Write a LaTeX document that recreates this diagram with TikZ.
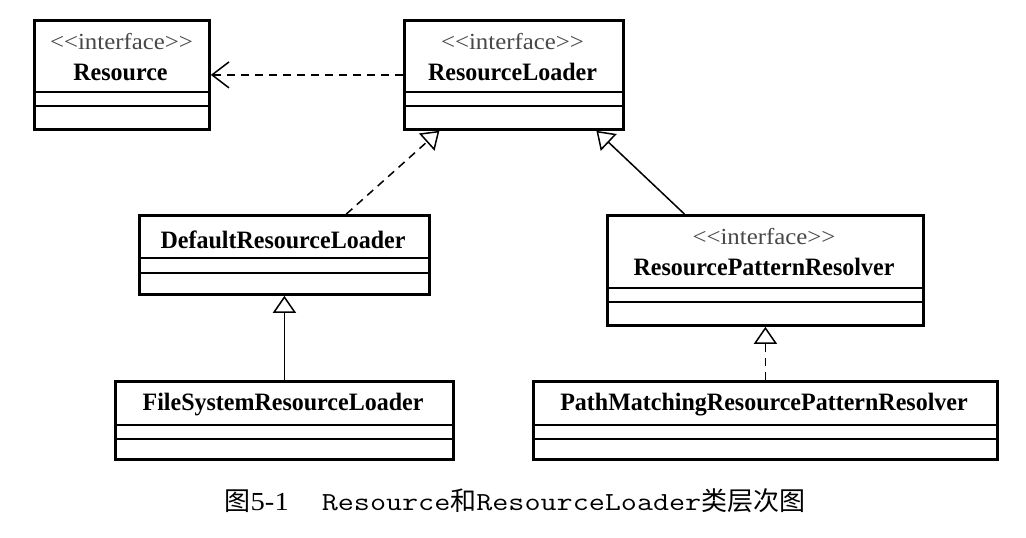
\documentclass[tikz,border=0pt]{standalone}
\usepackage{fontspec}
\usetikzlibrary{arrows.meta}
\setmainfont{Liberation Serif}
\newfontfamily\namefont[FakeStretch=0.96]{Liberation Serif}
\newfontfamily\stfont[FakeStretch=1.08]{Liberation Serif}
\newfontfamily\capserif[FakeStretch=1.1]{Liberation Serif}
\newfontfamily\capmono[FakeStretch=1.2]{Latin Modern Mono}
\newfontfamily\cjk{Noto Sans CJK SC}
\definecolor{stgray}{HTML}{484848}
\tikzset{
  cls/.style={draw, line width=2.8pt, inner sep=0pt, anchor=north west},
  divider/.style={line width=1.8pt},
  stereo/.style={inner sep=0pt, text=stgray, font=\stfont\fontsize{23}{25}\selectfont},
  cname/.style={inner sep=0pt, font=\namefont\bfseries\fontsize{25}{28}\selectfont},
  dep/.style={line width=1.5pt, dash pattern=on 8pt off 6pt, -{Straight Barb[length=17pt,width=26pt,line width=1.5pt]}},
  real/.style={line width=1.5pt, dash pattern=on 8pt off 6pt, -{Triangle[open,length=17pt,width=23pt,line width=1.5pt]}},
  inh/.style={line width=1.5pt, -{Triangle[open,length=17pt,width=23pt,line width=1.5pt]}}
}
\begin{document}
\begin{tikzpicture}[x=1pt,y=-1pt]
\useasboundingbox[fill=white] (0,0) rectangle (1026,538);
% Resource
\node[cls, minimum width=175pt, minimum height=109pt] (res) at (33,19) {};
\draw[divider] (33,92) -- (208,92);
\draw[divider] (33,106) -- (208,106);
\node[stereo] (resst) at (121.5,42) {<<interface>>};
\node[cname] (resnm) at (120.5,72) {Resource};
% ResourceLoader
\node[cls, minimum width=219pt, minimum height=109pt] (rl) at (403,19) {};
\draw[divider] (403,92) -- (622,92);
\draw[divider] (403,106) -- (622,106);
\node[stereo] (rlst) at (512.5,42) {<<interface>>};
\node[cname] (rlnm) at (512.5,72) {ResourceLoader};
% DefaultResourceLoader
\node[cls, minimum width=290pt, minimum height=79pt] (drl) at (138,214) {};
\draw[divider] (138,258) -- (428,258);
\draw[divider] (138,273) -- (428,273);
\node[cname] (drlnm) at (283,240) {DefaultResourceLoader};
% ResourcePatternResolver
\node[cls, minimum width=316pt, minimum height=110pt] (rpr) at (606,214) {};
\draw[divider] (606,288) -- (922,288);
\draw[divider] (606,302) -- (922,302);
\node[stereo] (rprst) at (764,237) {<<interface>>};
\node[cname] (rprnm) at (764,267) {ResourcePatternResolver};
% FileSystemResourceLoader
\node[cls, minimum width=338pt, minimum height=78pt] (fs) at (114,380) {};
\draw[divider] (114,425) -- (452,425);
\draw[divider] (114,439) -- (452,439);
\node[cname] (fsnm) at (283,405) {FileSystemResourceLoader};
% PathMatchingResourcePatternResolver
\node[cls, minimum width=464pt, minimum height=78pt] (pm) at (532,380) {};
\draw[divider] (532,425) -- (996,425);
\draw[divider] (532,439) -- (996,439);
\node[cname] (pmnm) at (764,405) {PathMatchingResourcePatternResolver};
% connectors
\draw[dep] (rl.west) -- (res.east);
\draw[real] ([xshift=62pt]drl.north) -- ([xshift=-74.5pt]rl.south);
\draw[inh] ([xshift=-81pt]rpr.north) -- ([xshift=82.5pt]rl.south);
\draw[inh] (fs.north) -- (drl.south);
\draw[real] (pm.north) -- (rpr.south);
% caption
\node[inner sep=0pt] (cap) at (515,501) {\cjk\fontsize{26}{28}\selectfont 图\capserif 5-1\hspace{33pt}\capmono Resource\cjk 和\capmono ResourceLoader\cjk 类层次图};
\end{tikzpicture}
\end{document}
